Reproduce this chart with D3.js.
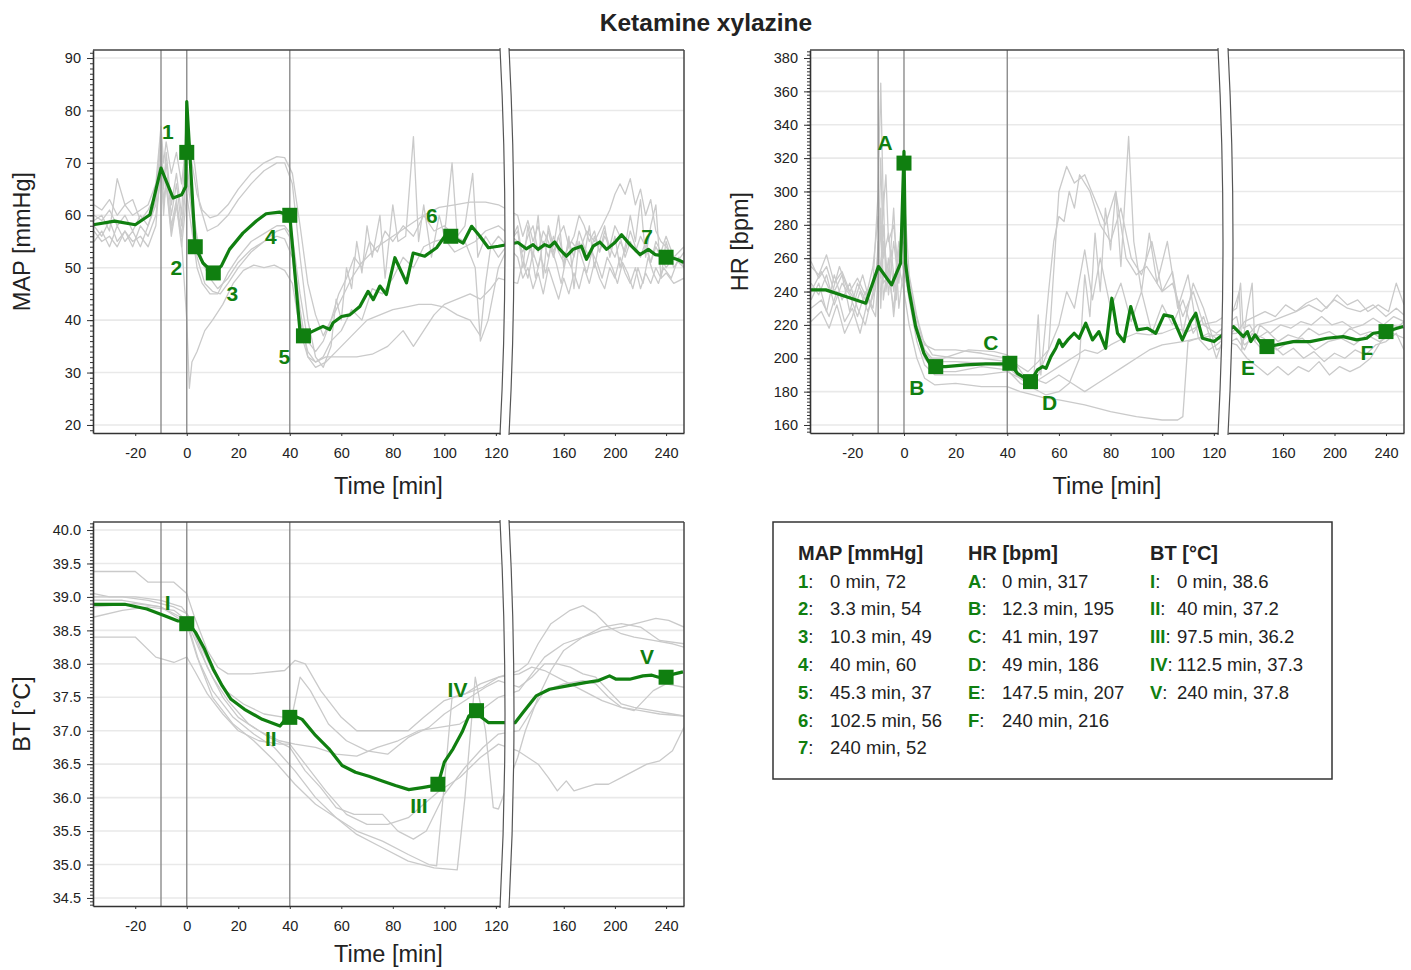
<!DOCTYPE html>
<html>
<head>
<meta charset="utf-8">
<script src="https://cdn.jsdelivr.net/npm/d3@7"></script>
<style>
  body { margin: 0; background: #fff; }
  svg { font-family: "Liberation Sans", Arial, sans-serif; }
</style>
</head>
<body>
<svg id="chart" width="1411" height="970"></svg>
<script>
// ---- axis ticks ----
const xTicksLeft = [-20, 0, 20, 40, 60, 80, 100, 120];
const xTicksRight = [160, 200, 240];
const eventTimes = [-10, 0, 40];
const mapYTicks = [20, 30, 40, 50, 60, 70, 80, 90];
const hrYTicks = [160, 180, 200, 220, 240, 260, 280, 300, 320, 340, 360, 380];
const btYTicks = [34.5, 35, 35.5, 36, 36.5, 37, 37.5, 38, 38.5, 39, 39.5, 40];

// ---- MAP [mmHg] ----
const mapMean = [[-36.3,58.2],[-28,58.9],[-20,58.2],[-14.3,60.1],[-10,69],[-5.3,63.3],[-2,63.9],[-0.4,65.5],[0,81.7],[3.3,54],[6.3,50.9],[10.3,49],[13.4,50.3],[16.6,53.5],[21.8,56.6],[27,58.9],[30.8,60.3],[36,60.6],[40,60],[43.9,38.2],[45.3,37],[49,37.9],[52.9,38.8],[55.5,38.2],[56.8,39.5],[60.1,40.7],[63.3,41],[67.2,42.6],[70.4,45.5],[72.4,43.9],[75,46.5],[77.5,44.9],[80.8,51.9],[85.3,47.1],[87.9,52.8],[92.4,52.2],[97,53.8],[100.2,56],[102.5,56],[107.3,54.7],[110.6,57.9],[113.8,56],[117.1,53.8],[121,54.1],[124.2,54.8],[130.7,53.6],[136,54.4],[139.9,53.5],[145.1,54.4],[149,54],[152.9,54.9],[156.9,53.5],[162.1,52.2],[167.3,53.5],[173.9,54.1],[177.8,51.6],[183,54.1],[188.2,54.9],[193.5,53.5],[200,54.8],[205.2,56.3],[211.8,54.4],[219.6,52.5],[226.1,53.5],[231.4,52.5],[240,52.2],[248.3,51.6],[254,51]];
const mapGrey1 = [[-36,62],[-33,61],[-30,63],[-27,60],[-24,62],[-21,60],[-18,61],[-15,62],[-12,66],[-10,77],[-9,70],[-8,74],[-6,68],[-4,72],[-2,66],[0,75],[2,70],[4,64],[6,61],[9,59.5],[12,60],[16,62],[20,65],[25,68],[30,70],[35,71.2],[38,71],[41,68],[44,58],[47,47],[50,41],[53,37],[56,40],[60,44],[64,48],[68,51],[74,54],[80,56],[86,58],[92,60],[98,61.5],[104,62],[110,62.5],[116,62.5],[121,62],[124,60],[128,56],[132,59],[136,55],[140,58],[144,54],[148,57],[152,53],[156,56],[160,52],[166,55],[172,53],[178,57],[184,55],[190,58],[196,61],[200,64],[204,66],[208,64],[212,67],[216,62],[220,65],[224,60],[228,63],[232,57],[236,55],[240,54],[246,52],[254,50]];
const mapGrey2 = [[-36,59],[-33,60],[-30,57],[-27,67],[-24,62],[-21,63],[-18,59],[-15,61],[-12,64],[-10,76],[-9,65],[-8,72],[-6,62],[-4,68],[-2,60],[0,80],[1,74],[3,70],[5,62],[8,57],[12,58],[16,60],[20,63],[25,66],[30,68.5],[35,70],[38,70],[41,66],[44,52],[47,40],[50,33],[53,31],[56,35],[58,44],[60,40],[62,50],[64,46],[66,55],[68,49],[70,58],[72,52],[75,60],[77,48],[80,62],[82,55],[85,56],[88,75],[90,55],[92,62],[95,52],[98,60],[100,56],[103,70],[105,56],[108,58],[111,68],[113,52],[116,56],[121,52],[124,57],[128,50],[132,58],[136,52],[140,60],[144,48],[148,58],[152,54],[156,60],[160,50],[164,56],[168,46],[172,55],[176,52],[180,58],[184,50],[188,55],[192,58],[196,52],[200,56],[204,50],[208,54],[212,60],[216,55],[220,63],[224,52],[228,58],[232,62],[236,48],[240,55],[246,50],[254,53]];
const mapGrey3 = [[-36,55],[-33,57],[-30,54],[-27,58],[-24,55],[-21,57],[-18,54],[-15,58],[-12,62],[-10,72],[-9,60],[-8,67],[-6,58],[-4,63],[-2,56],[0,68],[2,60],[4,52],[7,47],[10,45.5],[13,45],[16,47],[20,50],[25,53],[30,55],[35,57],[38,57.5],[41,55],[44,42],[47,33],[50,31],[54,32],[58,34],[62,36],[66,38],[70,40],[75,41],[80,42],[85,42.5],[90,43],[95,43],[100,42.5],[105,41],[110,40],[114,37],[116,47],[118,54],[121,56],[124,52],[128,48],[132,50],[136,46],[140,49],[144,45],[148,50],[152,47],[156,44],[160,48],[164,45],[168,49],[172,46],[176,50],[180,47],[184,51],[188,48],[192,46],[196,50],[200,48],[204,52],[208,49],[212,47],[216,50],[220,46],[224,49],[228,47],[232,50],[236,48],[240,49],[246,47],[254,48]];
const mapGrey4 = [[-36,58],[-33,56],[-30,59],[-27,55],[-24,57],[-21,54],[-18,58],[-15,56],[-12,60],[-10,68],[-9,62],[-8,66],[-6,57],[-4,62],[-2,55],[0,40],[1,27],[2,32],[4,34],[7,38],[10,40],[14,43],[18,47],[22,49.5],[26,50.5],[30,50],[34,50.5],[38,49.5],[41,47],[44,38],[47,33],[50,32],[54,33],[60,33],[66,33],[72,33.5],[78,35],[84,38],[88,35],[92,38],[96,41],[100,43],[105,44],[110,45],[114,44],[118,46],[121,48],[124,47],[128,51],[132,48],[136,53],[140,50],[144,55],[148,52],[152,56],[156,53],[160,51],[164,55],[168,52],[172,57],[176,54],[180,52],[184,56],[188,53],[192,57],[196,54],[200,52],[204,55],[208,53],[212,57],[216,54],[220,52],[224,55],[228,51],[232,54],[236,52],[240,50],[246,52],[254,51]];
const mapGrey5 = [[-36,60],[-33,59],[-30,61],[-27,58],[-24,60],[-21,57],[-18,60],[-15,58],[-12,63],[-10,74],[-9,66],[-8,70],[-6,60],[-4,66],[-2,58],[0,70],[2,62],[4,56],[6,51],[9,48],[12,46],[16,48],[20,51],[25,53.5],[30,55],[35,56],[38,55.5],[41,52],[44,40],[47,34],[50,32],[53,33],[56,36],[60,38],[64,42],[68,40],[72,46],[76,45],[80,48],[84,52],[88,50],[92,54],[96,55],[100,55.5],[104,53],[108,54],[112,55],[116,57],[121,58],[124,55],[128,53],[132,56],[136,58],[140,53],[144,57],[148,55],[152,52],[156,56],[160,58],[164,54],[168,56],[172,60],[176,58],[180,55],[184,57],[188,53],[192,56],[196,54],[200,58],[204,56],[208,52],[212,55],[216,53],[220,56],[224,54],[228,51],[232,55],[236,53],[240,56],[246,52],[254,54]];
const mapGrey6 = [[-36,57],[-33,55],[-30,56],[-27,54],[-24,57],[-21,55],[-18,56],[-15,54],[-12,58],[-10,70],[-9,63],[-8,66],[-6,56],[-4,62],[-2,54],[0,64],[2,57],[4,50],[6,47],[9,45],[12,45],[16,49],[20,52],[25,55],[30,56.5],[35,58],[38,58],[41,56],[44,45],[47,36],[50,34],[53,36],[56,40],[59,45],[62,48],[65,52],[68,50],[71,55],[74,53],[77,57],[80,55],[84,58],[88,56],[92,60],[96,57],[100,58],[104,56],[108,55],[112,50],[114,36],[117,40],[121,50],[124,58],[127,53],[130,50],[134,54],[138,48],[142,52],[146,49],[150,54],[154,51],[158,47],[162,52],[166,50],[170,55],[174,52],[178,49],[182,53],[186,51],[190,48],[194,52],[198,50],[202,47],[206,51],[210,49],[214,46],[218,50],[222,47],[226,52],[230,49],[234,47],[238,50],[244,48],[250,52],[254,50]];
const mapMarkers = [[0,72],[3.3,54],[10.3,49],[40,60],[45.3,37],[102.5,56],[240,52]];
const mapTags = ["1","2","3","4","5","6","7"];
const mapTagSide = ["ul","dl","dr","dl","dl","ul","ul"];

// ---- HR [bpm] ----
const hrMean = [[-36.4,241],[-30.3,241],[-22.6,237],[-14.8,233],[-9.9,255],[-4.8,244],[-1.3,257],[0,324],[0.6,257],[1.9,241],[4.5,219],[7.7,203],[10.3,196],[12.3,195],[16.1,195],[23.9,196],[31.6,196.6],[39.4,196.6],[41,197],[43.9,191],[49,186],[51.7,193],[53.7,195],[55,194],[56.9,201],[58.8,206],[60.1,211],[61.4,207],[63.4,211],[65.9,215],[67.8,212],[70.4,221],[73,211],[75.5,216],[78.1,206],[80.5,236],[82.7,215],[85.2,210],[87.8,231],[90.4,217],[94.2,218],[97.5,215],[100.7,226],[103.9,225],[107.8,211],[111,222],[113,227],[115.6,212],[120.1,210],[121.5,219],[125.3,216],[129.2,213],[132.3,216],[134.9,210],[138.3,214],[144.7,207],[147.5,207],[155.1,208],[168,210],[181,210],[194,212],[206.8,213],[217.2,211],[225,212],[230.1,215],[240,216],[253.4,219]];
const hrGrey1 = [[-36,255],[-33,250],[-30,262],[-27,245],[-24,252],[-21,240],[-18,248],[-15,238],[-12,245],[-10,300],[-9,365],[-8,290],[-7,310],[-6,270],[-4,280],[-2,250],[0,295],[1,260],[3,230],[6,210],[10,200],[15,200],[25,205],[35,204],[40,202],[44,196],[48,192],[52,198],[56,205],[60,300],[63,315],[66,305],[70,310],[74,295],[78,280],[82,300],[86,260],[90,250],[94,255],[100,240],[104,245],[108,225],[112,240],[116,220],[121,215],[124,225],[128,210],[134,215],[140,220],[150,222],[160,225],[170,228],[180,232],[190,228],[200,235],[210,230],[220,228],[230,232],[240,225],[248,230],[254,226]];
const hrGrey2 = [[-36,240],[-32,252],[-28,238],[-25,255],[-22,242],[-19,235],[-16,250],[-13,232],[-10,255],[-9,320],[-8,260],[-6,275],[-4,240],[-2,270],[0,250],[2,240],[5,215],[8,200],[12,192],[20,192],[30,195],[40,193],[45,185],[50,182],[52,226],[53,190],[56,240],[58,270],[60,285],[62,282],[64,300],[66,290],[68,310],[72,300],[76,280],[80,270],[84,290],[88,260],[92,250],[96,270],[100,240],[104,252],[108,215],[112,245],[116,230],[121,205],[124,212],[130,205],[136,215],[145,212],[155,205],[165,210],[175,212],[185,205],[195,210],[205,212],[215,208],[225,214],[235,210],[245,215],[254,212]];
const hrGrey3 = [[-36,230],[-32,235],[-29,225],[-26,240],[-23,222],[-20,230],[-17,215],[-14,235],[-11,225],[-10,250],[-9,280],[-8,235],[-6,260],[-4,225],[-2,255],[0,240],[2,220],[5,200],[8,188],[12,184],[20,185],[30,183],[40,183],[45,180],[50,178],[55,176],[60,175],[70,172],[80,168],[90,165],[100,163],[106,163],[108,165],[110,210],[114,212],[118,215],[121,212],[124,208],[132,200],[140,195],[148,190],[156,195],[164,190],[172,195],[180,192],[188,198],[196,190],[204,195],[212,192],[220,195],[228,200],[236,210],[244,215],[254,222]];
const hrGrey4 = [[-36,222],[-32,228],[-29,218],[-26,232],[-23,215],[-20,225],[-17,240],[-14,228],[-11,242],[-10,270],[-9,250],[-8,300],[-7,240],[-5,265],[-3,235],[-1,280],[0,300],[2,250],[5,225],[8,208],[12,205],[20,205],[30,203],[40,200],[45,190],[50,188],[55,185],[60,190],[65,185],[70,180],[75,185],[80,190],[85,195],[90,200],[95,205],[100,208],[108,210],[114,212],[121,214],[124,215],[130,222],[138,225],[146,228],[154,225],[162,232],[170,228],[178,233],[186,236],[194,230],[202,238],[210,232],[218,235],[226,228],[234,232],[242,228],[248,245],[254,232]];
const hrGrey5 = [[-36,258],[-33,248],[-30,255],[-27,240],[-24,250],[-21,228],[-18,245],[-15,235],[-12,255],[-10,285],[-9,230],[-8,270],[-6,245],[-4,290],[-2,230],[0,255],[2,235],[5,210],[8,196],[12,190],[20,190],[30,190],[40,192],[45,188],[50,182],[55,178],[60,180],[64,185],[68,200],[70,250],[72,225],[74,275],[76,240],[78,290],[80,265],[82,300],[84,255],[87,333],[89,270],[92,240],[95,275],[98,245],[102,270],[106,230],[110,250],[114,212],[118,205],[121,208],[124,218],[130,208],[136,212],[144,205],[152,208],[160,202],[168,206],[176,200],[184,204],[192,198],[200,203],[208,200],[216,205],[224,202],[232,208],[240,210],[248,215],[254,205]];
const hrGrey6 = [[-36,245],[-33,238],[-30,250],[-27,232],[-24,245],[-21,238],[-18,225],[-15,240],[-12,230],[-10,260],[-9,290],[-8,245],[-6,250],[-4,230],[-2,265],[0,270],[2,245],[5,220],[8,205],[12,198],[20,198],[30,197],[40,195],[45,188],[50,185],[55,190],[60,195],[65,200],[70,205],[75,203],[80,208],[85,212],[90,215],[95,214],[100,215],[105,218],[110,216],[115,220],[121,222],[124,230],[127,245],[129,218],[134,220],[140,212],[148,216],[156,210],[164,214],[172,212],[180,218],[188,214],[196,216],[204,212],[212,218],[220,214],[228,216],[236,212],[244,220],[254,218]];
const hrGrey7 = [[-36,235],[-33,245],[-30,228],[-27,250],[-24,235],[-21,245],[-18,230],[-15,220],[-12,240],[-10,262],[-9,248],[-8,280],[-6,238],[-4,270],[-2,245],[0,280],[1,255],[4,230],[7,212],[11,202],[20,200],[30,200],[40,198],[44,195],[48,186],[52,190],[56,205],[60,220],[63,240],[66,230],[70,265],[73,235],[76,260],[80,230],[84,245],[88,222],[92,240],[96,215],[100,232],[104,220],[108,235],[112,215],[116,225],[121,200],[124,235],[126,240],[128,205],[132,228],[136,245],[138,210],[142,220],[150,215],[158,220],[166,218],[174,222],[182,220],[190,225],[198,220],[206,222],[214,218],[222,220],[230,224],[238,220],[246,225],[254,222]];
const hrMarkers = [[0,317],[12.3,195],[41,197],[49,186],[147.5,207],[240,216]];
const hrTags = ["A","B","C","D","E","F"];
const hrTagSide = ["ul","dl","ul","dr","dl","dl"];

// ---- BT [°C] ----
const btMean = [[-36.2,38.89],[-24.1,38.89],[-15.5,38.82],[-8.6,38.72],[-3.4,38.64],[0,38.64],[3.4,38.47],[6.9,38.22],[10.3,37.92],[13.8,37.67],[17.2,37.47],[22.4,37.32],[29.3,37.17],[36.2,37.07],[40,37.25],[44.8,37.17],[50,36.93],[55.2,36.73],[60.3,36.48],[65.5,36.38],[70.7,36.32],[75.9,36.25],[81,36.18],[86.2,36.12],[91.4,36.15],[97.5,36.19],[100,36.53],[103.4,36.73],[106.9,36.98],[109.5,37.22],[112.5,37.3],[113.8,37.22],[117.2,37.12],[119.8,37.12],[122,37.12],[128,37.27],[138.4,37.52],[148.9,37.62],[162.8,37.67],[176.7,37.72],[187.1,37.75],[195.8,37.82],[201,37.77],[211.5,37.77],[221.9,37.82],[228.9,37.83],[234.1,37.8],[240,37.82],[253.2,37.88]];
const btGrey1 = [[-36,39.38],[-20,39.38],[-15,39.22],[-5,39.22],[0,39.05],[3,38.7],[8,38.2],[12,37.95],[16,37.85],[25,37.85],[38,37.9],[42,38.05],[46,38.0],[52,37.6],[60,37.2],[66,37.0],[75,37.0],[86,37.0],[92,37.2],[100,37.45],[108,37.55],[115,37.65],[121,37.8],[125,37.9],[132,38.0],[140,38.3],[150,38.6],[165,38.8],[175,38.87],[185,38.75],[195,38.55],[205,38.45],[215,38.4],[230,38.35],[245,38.3],[254,38.25]];
const btGrey2 = [[-36,39.05],[-30,39.0],[-20,39.0],[-10,38.95],[-2,38.85],[1,38.7],[5,38.3],[10,37.9],[15,37.6],[22,37.4],[30,37.25],[38,37.2],[41,37.25],[44,37.8],[48,37.6],[55,37.1],[62,36.85],[70,36.7],[78,36.65],[86,36.9],[94,37.05],[100,37.25],[110,37.5],[116,37.65],[121,37.75],[125,37.65],[135,37.8],[145,38.0],[155,38.0],[165,37.95],[175,37.85],[185,37.8],[195,37.6],[205,37.4],[215,37.35],[230,37.3],[245,37.25],[254,37.22]];
const btGrey3 = [[-36,39.0],[-25,39.0],[-15,38.95],[-5,38.85],[0,38.75],[4,38.35],[8,37.95],[14,37.5],[20,37.2],[28,37.0],[36,36.85],[42,36.8],[50,36.75],[58,36.65],[66,36.62],[74,36.75],[82,36.85],[90,37.0],[98,37.05],[106,37.1],[114,37.3],[121,37.5],[125,37.6],[135,37.85],[145,38.1],[160,38.3],[175,38.4],[190,38.5],[205,38.55],[220,38.62],[232,38.68],[242,38.65],[254,38.55]];
const btGrey4 = [[-36,38.95],[-25,38.95],[-10,38.85],[0,38.65],[5,38.2],[10,37.8],[16,37.45],[24,37.1],[32,36.9],[40,36.75],[46,36.4],[52,36.15],[58,35.85],[65,35.75],[76,35.75],[82,35.5],[88,35.38],[93,35.5],[100,36.05],[108,36.45],[115,36.75],[121,36.95],[125,37.0],[135,37.3],[145,37.6],[160,37.7],[175,37.75],[185,37.7],[195,37.5],[205,37.35],[215,37.3],[230,37.6],[240,37.7],[254,37.65]];
const btGrey5 = [[-36,38.85],[-20,38.9],[-10,38.85],[0,38.6],[4,38.1],[10,37.6],[18,37.2],[26,36.95],[34,36.75],[42,36.4],[50,36.0],[58,35.7],[66,35.5],[76,35.35],[86,35.15],[94,35.0],[97,34.98],[100,36.2],[103,37.5],[108,37.55],[114,37.7],[121,37.8],[125,37.85],[135,37.95],[145,37.9],[160,37.75],[175,37.6],[190,37.45],[205,37.35],[220,37.3],[235,37.25],[254,37.22]];
const btGrey6 = [[-36,38.7],[-25,38.8],[-15,38.85],[-5,38.8],[0,38.65],[5,38.0],[10,37.5],[18,37.1],[26,36.85],[34,36.55],[42,36.2],[50,35.9],[58,35.7],[66,35.45],[76,35.25],[86,35.05],[96,34.95],[105,34.92],[108,36.0],[112,37.8],[116,37.0],[119,35.85],[121,35.83],[124,36.6],[130,37.0],[140,37.5],[150,37.9],[160,38.2],[175,38.4],[190,38.55],[205,38.6],[220,38.55],[235,38.35],[254,38.3]];
const btGrey7 = [[-36,38.4],[-20,38.4],[-12,38.1],[-5,38.02],[0,38.1],[3,37.9],[8,37.55],[14,37.25],[20,37.0],[28,36.85],[36,36.8],[40,36.8],[46,36.5],[54,36.1],[62,35.75],[70,35.6],[78,35.6],[86,35.7],[92,35.9],[98,36.1],[106,36.3],[114,36.6],[121,36.8],[124,36.7],[132,36.6],[140,36.5],[148,36.3],[155,36.1],[162,36.25],[168,36.1],[176,36.15],[185,36.2],[195,36.2],[205,36.3],[215,36.4],[225,36.5],[235,36.55],[245,36.7],[254,37.05]];
const btMarkers = [[0,38.6],[40,37.2],[97.5,36.2],[112.5,37.3],[240,37.8]];
const btTags = ["I","II","III","IV","V"];
const btTagSide = ["ul","dl","dl","ul","ul"];

// ---- drawing ----
const green = "#107f10";
const greyLine = "#cacaca";
const ink = "#222";
const tagOffset = { ul: [-19, -21], dl: [-19, 21], dr: [19, 21] };

const svg = d3.select("#chart");

svg.append("text")
  .attr("x", 706).attr("y", 31)
  .attr("text-anchor", "middle")
  .attr("font-size", 24.5).attr("font-weight", "bold")
  .attr("fill", ink)
  .text("Ketamine xylazine");

function drawPanel(p, id) {
  const g = svg.append("g");
  const xs1 = d3.scaleLinear().domain([-36.4, 122]).range([p.left, p.brk0]);
  const xs2 = d3.scaleLinear().domain([118, 254]).range([p.brk1, p.right]);
  const X = (t) => (t <= 121 ? xs1(t) : xs2(t));
  const y = d3.scaleLinear().domain(p.yDomain).range([p.bottom, p.top]);
  const mid = (p.top + p.bottom) / 2;

  g.append("clipPath").attr("id", "clip" + id)
    .append("rect")
    .attr("x", p.left).attr("y", p.top)
    .attr("width", p.right - p.left).attr("height", p.bottom - p.top);

  // gridlines
  g.selectAll(".grid").data(p.yTicks).join("line")
    .attr("x1", p.left).attr("x2", p.right)
    .attr("y1", (d) => y(d)).attr("y2", (d) => y(d))
    .attr("stroke", "#e9e9e9").attr("stroke-width", 1.6);

  const plot = g.append("g").attr("clip-path", `url(#clip${id})`);
  const line = d3.line().x((d) => X(d[0])).y((d) => y(d[1]));

  plot.selectAll(".grey").data(p.greys).join("path")
    .attr("d", line)
    .attr("fill", "none")
    .attr("stroke", greyLine)
    .attr("stroke-width", 1.3)
    .attr("stroke-linejoin", "round");

  plot.selectAll(".ev").data(eventTimes).join("line")
    .attr("x1", (d) => X(d)).attr("x2", (d) => X(d))
    .attr("y1", p.top).attr("y2", p.bottom)
    .attr("stroke", "#8c8c8c").attr("stroke-width", 1.4);

  plot.append("path")
    .attr("d", line(p.mean))
    .attr("fill", "none")
    .attr("stroke", green)
    .attr("stroke-width", 3.2)
    .attr("stroke-linejoin", "round");

  plot.selectAll(".mk").data(p.markers).join("rect")
    .attr("x", (d) => X(d[0]) - 7.5).attr("y", (d) => y(d[1]) - 7.5)
    .attr("width", 15).attr("height", 15)
    .attr("fill", green);

  g.selectAll(".tag").data(p.markers).join("text")
    .attr("x", (d, i) => X(d[0]) + tagOffset[p.sides[i]][0])
    .attr("y", (d, i) => y(d[1]) + tagOffset[p.sides[i]][1])
    .attr("text-anchor", "middle")
    .attr("dominant-baseline", "central")
    .attr("font-size", 21).attr("font-weight", "bold")
    .attr("fill", green)
    .text((d, i) => p.tags[i]);

  // axis break mask and curves
  const b0 = p.brk0 - 1, b1 = p.brk1 - 1;
  const t0 = p.top - 2, t1 = p.bottom + 2;
  g.append("path")
    .attr("d", `M${b0},${t0} Q${b0 + 10},${mid} ${b0},${t1} L${b1},${t1} Q${b1 + 10},${mid} ${b1},${t0} Z`)
    .attr("fill", "#fff");
  [b0, b1].forEach((b) => {
    g.append("path")
      .attr("d", `M${b},${t0} Q${b + 10},${mid} ${b},${t1}`)
      .attr("fill", "none").attr("stroke", "#555").attr("stroke-width", 1.2);
  });

  // frame
  const frame = [
    [p.left, p.top, b0, p.top],
    [b1, p.top, p.right, p.top],
    [p.right, p.top, p.right, p.bottom],
  ];
  g.selectAll(".frame").data(frame).join("line")
    .attr("x1", (d) => d[0]).attr("y1", (d) => d[1])
    .attr("x2", (d) => d[2]).attr("y2", (d) => d[3])
    .attr("stroke", "#444").attr("stroke-width", 1.5);

  // x axes (two segments)
  const fmt = (d) => String(d);
  const ax1 = g.append("g").attr("transform", `translate(0,${p.bottom})`)
    .call(d3.axisBottom(xs1.copy().range([p.left, b0]).domain([-36.4, xs1.invert(b0)]))
      .tickValues(xTicksLeft).tickSize(3).tickSizeOuter(0).tickFormat(fmt));
  const ax2 = g.append("g").attr("transform", `translate(0,${p.bottom})`)
    .call(d3.axisBottom(xs2.copy().range([b1, p.right]).domain([xs2.invert(b1), 254]))
      .tickValues(xTicksRight).tickSize(3).tickSizeOuter(0).tickFormat(fmt));
  [ax1, ax2].forEach((a) => {
    a.select(".domain").attr("stroke", "#333").attr("stroke-width", 1.6);
    a.selectAll(".tick line").attr("stroke", "#333");
    a.selectAll("text").attr("font-size", 14.5).attr("fill", ink)
      .attr("font-family", "Liberation Sans, Arial, sans-serif")
      .attr("y", 20).attr("dy", "0.32em");
  });

  // y axis
  const ayMinor = g.append("g").attr("transform", `translate(${p.left},0)`)
    .call(d3.axisLeft(y).tickValues(p.yMinor).tickSize(3).tickFormat(""));
  ayMinor.select(".domain").remove();
  ayMinor.selectAll(".tick line").attr("stroke", "#333");
  const ay = g.append("g").attr("transform", `translate(${p.left},0)`)
    .call(d3.axisLeft(y).tickValues(p.yTicks).tickSize(6).tickSizeOuter(0).tickFormat(p.yFormat));
  ay.select(".domain").attr("stroke", "#333").attr("stroke-width", 1.6);
  ay.selectAll(".tick line").attr("stroke", "#333");
  ay.selectAll("text").attr("font-size", 14.5).attr("fill", ink)
    .attr("font-family", "Liberation Sans, Arial, sans-serif").attr("x", -12);

  // titles
  g.append("text")
    .attr("transform", `translate(${p.yTitleX},${mid}) rotate(-90)`)
    .attr("text-anchor", "middle").attr("dominant-baseline", "central")
    .attr("font-size", 23.5).attr("fill", ink)
    .text(p.yTitle);
  g.append("text")
    .attr("x", (p.left + p.right) / 2).attr("y", p.bottom + p.timeGap)
    .attr("text-anchor", "middle").attr("dominant-baseline", "central")
    .attr("font-size", 23.5).attr("fill", ink)
    .text("Time [min]");
}

const range = (a, b, s) => d3.range(Math.round(a / s), Math.round(b / s) + 1).map((k) => +(k * s).toFixed(2));

drawPanel({
  left: 93, right: 684, top: 50, bottom: 433, brk0: 501, brk1: 510, timeGap: 53,
  yDomain: [18.47, 91.53], yTicks: mapYTicks, yMinor: range(19, 91, 1), yFormat: d3.format("d"),
  yTitle: "MAP [mmHg]", yTitleX: 22,
  greys: [mapGrey1, mapGrey2, mapGrey3, mapGrey4, mapGrey5, mapGrey6],
  mean: mapMean, markers: mapMarkers, tags: mapTags, sides: mapTagSide,
}, "map");

drawPanel({
  left: 810, right: 1404, top: 50, bottom: 433, brk0: 1219, brk1: 1229, timeGap: 53,
  yDomain: [155.2, 384.8], yTicks: hrYTicks, yMinor: range(156, 384, 2), yFormat: d3.format("d"),
  yTitle: "HR [bpm]", yTitleX: 740,
  greys: [hrGrey1, hrGrey2, hrGrey3, hrGrey4, hrGrey5, hrGrey6, hrGrey7],
  mean: hrMean, markers: hrMarkers, tags: hrTags, sides: hrTagSide,
}, "hr");

drawPanel({
  left: 93, right: 684, top: 522, bottom: 906, brk0: 501, brk1: 510, timeGap: 48,
  yDomain: [34.38, 40.12], yTicks: btYTicks, yMinor: range(34.4, 40.1, 0.05), yFormat: d3.format(".1f"),
  yTitle: "BT [°C]", yTitleX: 22,
  greys: [btGrey1, btGrey2, btGrey3, btGrey4, btGrey5, btGrey6, btGrey7],
  mean: btMean, markers: btMarkers, tags: btTags, sides: btTagSide,
}, "bt");

// ---- legend box ----
const legend = svg.append("g");
legend.append("rect")
  .attr("x", 773).attr("y", 522).attr("width", 559).attr("height", 257)
  .attr("fill", "#fff").attr("stroke", "#333").attr("stroke-width", 1.5);

const legendCols = [
  { x: 798, valX: 830, head: "MAP [mmHg]", tags: mapTags, pts: mapMarkers },
  { x: 968, valX: 1002, head: "HR [bpm]", tags: hrTags, pts: hrMarkers },
  { x: 1150, valX: 1177, head: "BT [°C]", tags: btTags, pts: btMarkers },
];

legendCols.forEach((c) => {
  legend.append("text")
    .attr("x", c.x).attr("y", 560)
    .attr("font-size", 20).attr("font-weight", "bold").attr("fill", ink)
    .text(c.head);
  c.pts.forEach((d, i) => {
    const yy = 587.5 + i * 27.8;
    const row = legend.append("text").attr("x", c.x).attr("y", yy)
      .attr("font-size", 18.5).attr("fill", ink);
    row.append("tspan").attr("font-weight", "bold").attr("fill", green).text(c.tags[i]);
    row.append("tspan").text(":");
    const w = row.node().getComputedTextLength();
    legend.append("text")
      .attr("x", Math.max(c.valX, c.x + w + 3)).attr("y", yy)
      .attr("font-size", 18.5).attr("fill", ink)
      .text(`${d[0]} min, ${d[1]}`);
  });
});
</script>
</body>
</html>
